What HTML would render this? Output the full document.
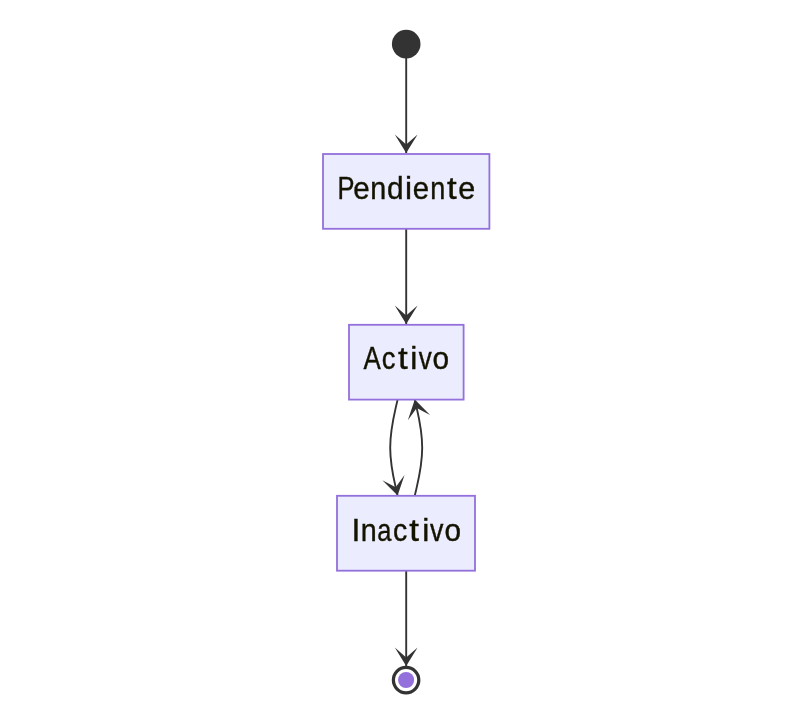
<!DOCTYPE html>
<html>
<head>
<meta charset="utf-8">
<style>
html,body{margin:0;padding:0;background:#ffffff;width:797px;height:709px;overflow:hidden;}
svg{display:block;position:absolute;left:0;top:0;will-change:transform;}
text{font-family:"Liberation Sans", sans-serif;fill:#131300;opacity:0.999;}
</style>
</head>
<body>
<svg width="797" height="709" viewBox="0 0 797 709">
<defs>
<marker id="barb" markerUnits="userSpaceOnUse" viewBox="0 0 20 14" markerWidth="37" markerHeight="26.6" preserveAspectRatio="none" refX="19" refY="7" orient="auto">
<path d="M19,7 L9,13 L14.4,7 L9,1 Z" fill="#333333"/>
</marker>
</defs>
<g fill="none" stroke="#333333" stroke-width="1.9">
<path d="M406.20,44.10 L406.20,53.17 C406.20,62.23 406.20,80.37 406.20,98.52 C406.20,116.67 406.20,134.83 406.20,143.92 L406.20,153.00" marker-end="url(#barb)"/>
<path d="M406.20,228.80 L406.20,236.73 C406.20,244.67 406.20,260.53 406.20,276.40 C406.20,292.27 406.20,308.13 406.20,316.07 L406.20,324.00" marker-end="url(#barb)"/>
<path d="M397.60,399.60 L395.75,407.62 C393.90,415.63 390.20,431.67 390.20,447.67 C390.20,463.67 393.90,479.63 395.75,487.62 L397.60,495.60" marker-end="url(#barb)"/>
<path d="M414.80,495.60 L416.65,487.62 C418.50,479.63 422.20,463.67 422.20,447.67 C422.20,431.67 418.50,415.63 416.65,407.62 L414.80,399.60" marker-end="url(#barb)"/>
<path d="M406.20,570.70 L406.20,578.63 C406.20,586.57 406.20,602.43 406.20,618.32 C406.20,634.20 406.20,650.10 406.20,658.05 L406.20,666.00" marker-end="url(#barb)"/>
</g>
<circle cx="406.2" cy="44.1" r="14.3" fill="#333333"/>
<g fill="#ECECFF" stroke="#9370DB" stroke-width="1.8">
<rect x="323" y="154" width="166.4" height="74.8"/>
<rect x="349" y="324.8" width="114.6" height="74.8"/>
<rect x="337" y="495.8" width="138" height="74.9"/>
</g>
<circle cx="406.1" cy="680.1" r="12.7" fill="#ffffff" stroke="#333333" stroke-width="3.25"/>
<circle cx="406.1" cy="680" r="8.05" fill="#9370DB"/>
<g font-size="31.8" stroke="#131300" stroke-width="0.4">
<text x="335.18" y="198.9" transform="translate(346.25 0) scale(0.800 1) translate(-346.25 0)">P</text>
<text x="352.66" y="198.9" transform="translate(361.48 0) scale(0.928 1) translate(-361.48 0)">e</text>
<text x="369.48" y="198.9" transform="translate(378.35 0) scale(0.903 1) translate(-378.35 0)">n</text>
<text x="386.41" y="198.9" transform="translate(394.90 0) scale(0.938 1) translate(-394.90 0)">d</text>
<text x="404.98" y="198.9">i</text>
<text x="411.97" y="198.9" transform="translate(420.78 0) scale(0.921 1) translate(-420.78 0)">e</text>
<text x="428.83" y="198.9" transform="translate(437.70 0) scale(0.851 1) translate(-437.70 0)">n</text>
<text x="447.36" y="198.9" transform="translate(451.90 0) scale(1.096 1) translate(-451.90 0)">t</text>
<text x="457.91" y="198.9" transform="translate(466.73 0) scale(0.962 1) translate(-466.73 0)">e</text>
<text x="361.46" y="369.45" transform="translate(372.07 0) scale(0.814 1) translate(-372.07 0)">A</text>
<text x="380.64" y="369.45" transform="translate(388.85 0) scale(0.861 1) translate(-388.85 0)">c</text>
<text x="398.38" y="369.45" transform="translate(402.92 0) scale(1.100 1) translate(-402.92 0)">t</text>
<text x="410.32" y="369.45">i</text>
<text x="417.30" y="369.45" transform="translate(425.25 0) scale(0.816 1) translate(-425.25 0)">v</text>
<text x="432.06" y="369.45" transform="translate(440.90 0) scale(0.939 1) translate(-440.90 0)">o</text>
<text x="351.45" y="540.8">I</text>
<text x="359.78" y="540.8" transform="translate(368.65 0) scale(0.903 1) translate(-368.65 0)">n</text>
<text x="375.43" y="540.8" transform="translate(384.95 0) scale(0.800 1) translate(-384.95 0)">a</text>
<text x="392.19" y="540.8" transform="translate(400.40 0) scale(0.897 1) translate(-400.40 0)">c</text>
<text x="409.73" y="540.8" transform="translate(414.27 0) scale(1.100 1) translate(-414.27 0)">t</text>
<text x="422.23" y="540.8">i</text>
<text x="428.80" y="540.8" transform="translate(436.75 0) scale(0.842 1) translate(-436.75 0)">v</text>
<text x="443.93" y="540.8" transform="translate(452.77 0) scale(0.936 1) translate(-452.77 0)">o</text>
</g>
</svg>
</body>
</html>
